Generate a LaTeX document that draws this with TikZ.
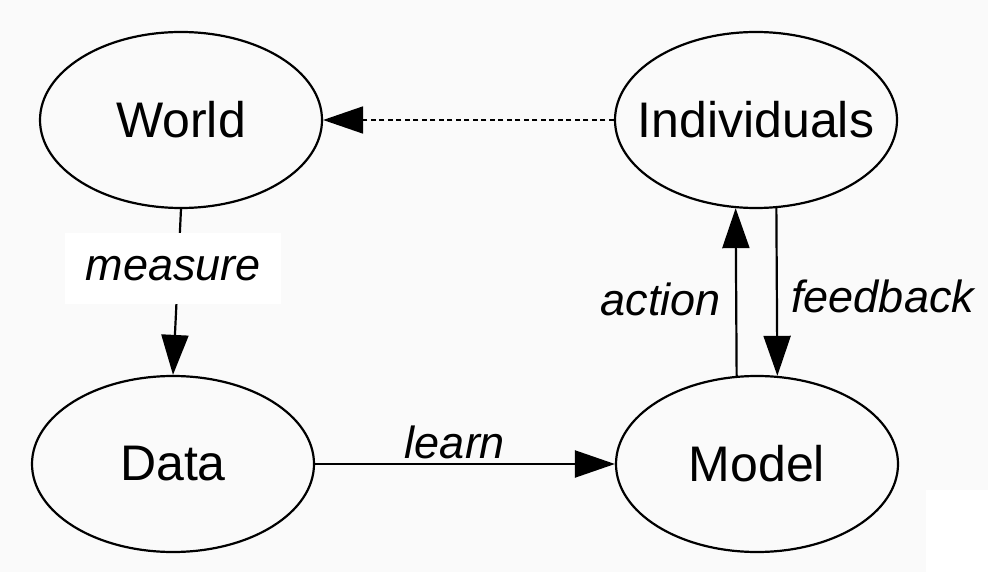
\documentclass[tikz,border=0pt]{standalone}
\usepackage{fontspec}
\setmainfont{Liberation Sans}
\usetikzlibrary{positioning,arrows.meta,shapes.geometric}
\definecolor{paper}{HTML}{FAFAFA}
\newcommand{\nlabel}[1]{\makebox[0pt]{#1}}

\begin{document}
\begin{tikzpicture}[
    x=1pt, y=-1pt,
    >={Triangle[length=40pt, width=27pt]},
    blob/.style = {ellipse, draw, line width=2.2pt, inner sep=0pt,
                   minimum width=282pt, minimum height=176pt,
                   font=\fontsize{50}{60}\selectfont},
    arr/.style  = {->, line width=2.2pt},
    darr/.style = {->, line width=1.8pt, dash pattern=on 5pt off 3.5pt},
    lbl/.style  = {font=\fontsize{45}{54}\selectfont\itshape},
]

%% ── Canvas ────────────────────────────────────────────────────────────────
\useasboundingbox (0,0) rectangle (988,572);
\fill[paper] (0,0) rectangle (988,572);
\fill[white] (926,490) rectangle (988,572);

%% ── Nodes ─────────────────────────────────────────────────────────────────
\node[blob] (world) at (181,120) {\nlabel{World}};
\node[blob] (indiv) at (756,120) {\nlabel{Individuals}};
\node[blob] (data)  at (173,464) {\nlabel{Data}};
\node[blob] (model) at (757,464) {\nlabel{Model}};

%% ── Connectors ────────────────────────────────────────────────────────────
\draw[arr] (world.south) --
  node[lbl, fill=white, minimum width=216pt, minimum height=71pt,
       inner sep=0pt, pos=0.36, xshift=-5pt] (meas) {measure}
  (data.north);

\draw[arr] (data.east) --
  node[lbl, above, inner sep=4pt, xshift=-10pt] (lrn) {learn}
  (model.west);

\draw[arr] (model.103) --
  node[lbl, pos=0.36, anchor=base east, xshift=-11pt] (act) {action}
  (indiv.-103);

\draw[arr] (indiv.-77) --
  node[lbl, pos=0.62, anchor=base west, xshift=10pt] (fdb) {feedback}
  (model.77);

\draw[darr] (indiv.west) -- (world.east);

\end{tikzpicture}
\end{document}
